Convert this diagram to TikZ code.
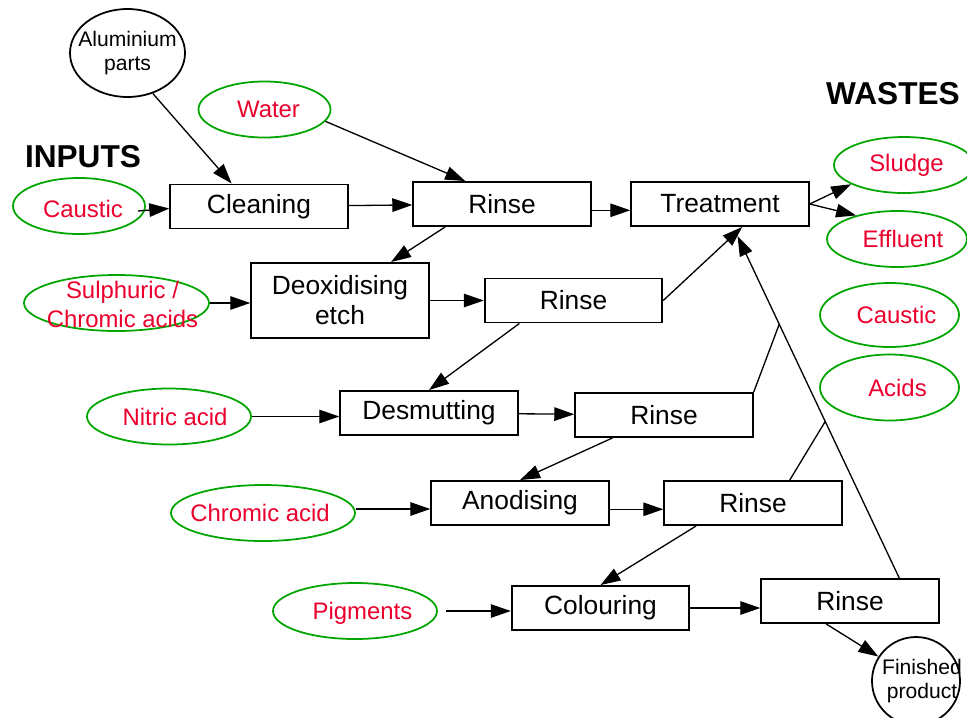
\documentclass[tikz,border=0pt]{standalone}
\usepackage{fontspec}
\setmainfont{Liberation Sans}
\usetikzlibrary{arrows.meta, positioning, shapes.geometric}
\usetikzlibrary{calc}

\definecolor{inred}{RGB}{235,0,45}
\definecolor{ingreen}{RGB}{0,165,0}

\begin{document}
\begin{tikzpicture}[
    box/.style={draw, rectangle, line width=1.1pt, minimum width=3.55cm, minimum height=0.88cm, align=center, font=\fontsize{15}{17}\selectfont},
    chem/.style={draw=ingreen, ellipse, line width=1pt, minimum width=2.64cm, minimum height=1.12cm, inner sep=0pt},
    redtxt/.style={text=inred, align=center, font=\fontsize{13.6}{16}\selectfont},
    smalltxt/.style={align=center, font=\fontsize{12}{14}\selectfont},
    title/.style={font=\fontsize{18}{20}\selectfont\bfseries},
    arrow/.style={-{Triangle[length=0.4cm, width=0.27cm]}, line width=0.75pt},
    feed/.style={line width=0.75pt}
]
\useasboundingbox (0,0) rectangle (19.34,-14.34);
\clip (0,0) rectangle (19.34,-14.34);

% Process steps
\node[box] (clean) at (5.18,-4.13) {Cleaning};
\node[box] (rinseA) at (10.04,-4.08) {Rinse};
\node[box] (treat) at (14.40,-4.08) {Treatment};
\node[box, minimum height=1.5cm] (deox) at (6.80,-6.01) {Deoxidising\\etch};
\node[box] (rinseB) at (11.47,-6.01) {Rinse};
\node[box] (desmut) at (8.58,-8.26) {Desmutting};
\node[box] (rinseC) at (13.28,-8.30) {Rinse};
\node[box] (anod) at (10.40,-10.06) {Anodising};
\node[box] (rinseD) at (15.06,-10.06) {Rinse};
\node[box] (colour) at (12.01,-12.16) {Colouring};
\node[box] (rinseE) at (17.00,-12.02) {Rinse};

% Parts in and out
\node[draw, ellipse, line width=1pt, minimum width=2.3cm, minimum height=1.76cm] (alu) at (2.55,-1.06) {};
\node[smalltxt] (alutxt) at (alu) {Aluminium\\parts};
\node[draw, circle, line width=1pt, minimum size=1.76cm] (fin) at (18.32,-13.62) {};
\node[smalltxt] (fintxt) at ($(fin)+(0.12,0)$) {Finished\\product};

% Inputs
\node[title] (inputs) at (1.66,-3.14) {INPUTS};
\node[chem] (water) at (5.29,-2.19) {};
\node[redtxt] (watertxt) at ($(water)+(0.08,0)$) {Water};
\node[chem] (causticin) at (1.58,-4.12) {};
\node[redtxt] (causticintxt) at ($(causticin)+(0.08,-0.05)$) {Caustic};
\node[chem, minimum width=3.7cm] (sulph) at (2.33,-6.06) {};
\node[redtxt] (sulphtxt) at ($(sulph)+(0.12,-0.03)$) {Sulphuric /\\Chromic acids};
\node[chem, minimum width=3.28cm] (nitric) at (3.38,-8.33) {};
\node[redtxt] (nitrictxt) at ($(nitric)+(0.12,0)$) {Nitric acid};
\node[chem, minimum width=3.68cm] (chromic) at (5.26,-10.26) {};
\node[redtxt] (chromictxt) at ($(chromic)+(-0.06,0)$) {Chromic acid};
\node[chem, minimum width=3.28cm] (pigm) at (7.10,-12.22) {};
\node[redtxt] (pigmtxt) at ($(pigm)+(0.15,-0.05)$) {Pigments};

% Wastes
\node[title] (wastes) at (17.86,-1.88) {WASTES};
\node[chem, minimum width=2.8cm] (sludge) at (18.08,-3.30) {};
\node[redtxt] (sludgetxt) at ($(sludge)+(0.05,0)$) {Sludge};
\node[chem, minimum width=2.8cm] (effl) at (17.94,-4.78) {};
\node[redtxt] (effltxt) at ($(effl)+(0.12,0)$) {Effluent};
\node[chem, minimum width=2.78cm, minimum height=1.28cm] (causticout) at (17.79,-6.30) {};
\node[redtxt] (causticouttxt) at ($(causticout)+(0.14,0)$) {Caustic};
\node[chem, minimum width=2.78cm, minimum height=1.32cm] (acids) at (17.79,-7.75) {};
\node[redtxt] (acidstxt) at ($(acids)+(0.16,0)$) {Acids};

% Feeds into the steps
\coordinate (chromicout) at ($(chromic.east)+(0,0.08)$);
\draw[arrow] (alu.-58) -- (clean.140);
\draw[arrow] (water.-11) -- (rinseA.148);
\draw[arrow] ($(causticin.east)+(-0.16,-0.1)$) -- (clean.west |- causticintxt);
\draw[arrow] (sulph.east) -- (deox.west |- sulph.east);
\draw[arrow] (nitric.east) -- (desmut.west |- nitric.east);
\draw[arrow] (chromicout) -- (anod.west |- chromicout);
\draw[arrow, shorten <=0.16cm] (pigm.east) -- (colour.west |- pigm.east);

% Main line
\draw[arrow] (clean) -- (rinseA);
\draw[arrow] (rinseA.-4.5) -- (rinseA.-4.5 -| treat.west);
\draw[arrow] (rinseA.-158) -- (deox.37);
\draw[arrow] (deox.east |- rinseB) -- (rinseB.west);
\draw[arrow] (rinseB.-157) -- (desmut.north);
\draw[arrow] (desmut) -- (rinseC);
\draw[arrow] (rinseC.-156) -- (anod.north);
\draw[arrow] (anod.-4) -- (anod.-4 -| rinseD.west);
\draw[arrow] (rinseD.-158) -- (colour.north);
\draw[arrow] (colour.east) -- (colour.east -| rinseE.west);
\draw[arrow] (rinseE.-136) -- (fin.147);

% Waste lines
\coordinate (joinC) at ($(rinseE.25)!0.723!(treat.-60)$);
\coordinate (joinD) at ($(rinseE.25)!0.446!(treat.-60)$);
\draw[arrow] (rinseB.east) -- (treat.-46);
\draw[arrow, shorten >=0.2cm] (rinseE.25) -- (treat.-60);
\draw[feed] (rinseC.north east) -- (joinC);
\draw[feed] (rinseD.32) -- (joinD);
\draw[arrow] (treat.east) -- (sludge.-160);
\draw[arrow] (treat.east) -- (effl.150);

\end{tikzpicture}
\end{document}
